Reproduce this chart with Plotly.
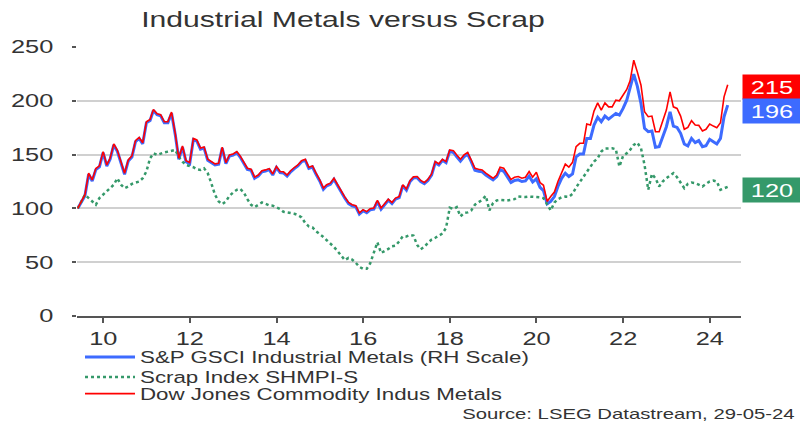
import pandas as pd
import plotly.graph_objects as go

# Monthly values, May 2009 .. May 2024 (rebased to 100)
start_month = "2009-05-31"

gsci_ind_metals = [
    100, 105.5, 111.7, 131.7, 125.5, 136, 138.5, 151.8,
    139.4, 145.6, 159, 153, 141, 131.7, 144, 147.8, 162, 165, 160, 179.5,
    181.7, 191, 187, 186, 179.5, 179.5, 188.5, 168.8, 145.6, 157, 143.4, 141.6,
    164, 162.6, 155, 156, 144.7, 142.5, 140.4, 141, 156, 141.6, 148.7, 149.6,
    151.8, 147.8, 142.5, 136.3, 135.4, 128, 130, 134, 134.8, 136, 131, 138,
    133.3, 133, 130, 134, 137, 139.4, 143.4, 144.7, 137.3, 138.5, 131.7, 125.5,
    117.8, 121, 122.5, 127, 121, 114.7, 109.5, 104.5, 102.4, 101.5, 94.7, 97.8,
    96, 98.7, 99.3, 106.4, 99.3, 103.3, 107.6, 104.5, 108.6, 110, 121, 117,
    125, 128.3, 128.6, 125, 123, 126, 131, 142.5, 140.4, 144.7, 142.5, 153,
    152, 148, 144, 148, 150.5, 143.5, 135.5, 134.5, 134, 131, 128.8, 126.5,
    129.5, 136, 134.5, 129.5, 124, 126, 126.5, 125, 125.5, 130, 124.5, 127.5,
    119.5, 116.5, 104.3, 106.5, 111, 120.4, 128, 132.7, 129.6, 132, 148, 150.6,
    150.6, 165, 165, 177.5, 184.6, 180.5, 185.8, 183, 185.2, 188.3, 186.7, 192.9,
    200.6, 211.4, 224.7, 213.6, 197.5, 174.4, 171.3, 171.9, 156.8, 157.4, 167.3, 175.9,
    189.8, 176.5, 175.3, 169.8, 159.9, 158, 165.1, 161.1, 163, 157.4, 158.3, 164.2,
    162, 159.9, 165.1, 185.2, 196,
]

scrap_index = [
    100, 106.5, 112.7, 109.6, 106.5, 103.4, 109.6, 112.7,
    115.7, 118, 122, 128, 122, 118.8, 120.4, 122.8, 124, 125, 128, 134.3,
    146.6, 151.2, 149.7, 151.2, 152, 152.8, 153.4, 154.3, 148, 143.5, 140.4, 139.5,
    138.3, 136.4, 135.8, 137.3, 132.7, 123.5, 112.7, 106.5, 104, 106.5, 111.7, 114.8,
    117.3, 118.2, 114.8, 108.6, 103.4, 101.2, 103.4, 105.5, 104.3, 102.8, 102.5, 101.2,
    99.4, 96.9, 96, 95.7, 95, 93.8, 91.7, 86.4, 83.3, 82.4, 78.7, 76.5,
    73.5, 70.4, 67.3, 64.2, 60.2, 55.6, 51.9, 54, 52.5, 49.4, 45.7, 43.8,
    43.8, 48.8, 58.6, 68.5, 58.6, 60.2, 62.3, 64.8, 65.4, 69.4, 74, 74,
    75.3, 74.7, 66, 62, 64.3, 68, 71, 72.7, 74.8, 76.7, 82, 100.6,
    99.4, 101.2, 92.6, 95.7, 96.3, 98.1, 103.4, 105.5, 108, 111.7, 98.1, 105,
    107.4, 108, 107.4, 107.4, 108, 108.6, 111, 110.5, 110.5, 111, 111, 110.5,
    110.2, 109.5, 103.8, 98.1, 105.5, 108.6, 110.3, 111, 110.8, 113.5, 119.5, 124.2,
    129, 134.3, 138.9, 143.5, 146.6, 152.8, 155.6, 155.9, 155.9, 155, 138.9, 148.8,
    151.2, 154.3, 159, 161.1, 155.9, 140.4, 117.3, 132, 128, 120.4, 125, 128,
    130.2, 132.7, 129, 124, 118.8, 122.8, 124, 123.5, 121.9, 120.4, 122.8, 125,
    125.9, 125, 117.3, 118.8, 120,
]

dj_ind_metals = [
    100, 106.5, 112.7, 132.7, 126.5, 137, 139.5, 152.8,
    140.4, 146.6, 160, 154, 142, 132.7, 145, 148.8, 163, 166, 161, 180.5,
    182.7, 192, 188, 187, 180.5, 180.5, 189.5, 169.8, 146.6, 158, 144.4, 142.6,
    165, 163.6, 156, 157, 145.7, 143.5, 141.4, 142, 157, 142.6, 149.7, 150.6,
    152.8, 148.8, 143.5, 137.3, 136.4, 129, 131, 135, 135.8, 137, 132, 139,
    134.3, 134, 131, 135, 138, 140.4, 144.4, 145.7, 138.3, 139.5, 132.7, 126.5,
    118.8, 122, 123.5, 128, 122, 115.7, 110.5, 105.5, 103.4, 102.5, 95.7, 98.8,
    97, 99.7, 100.3, 107.4, 100.3, 104.3, 108.6, 105.5, 109.6, 111, 122, 118,
    126, 129.3, 129.6, 126, 124, 127, 132, 143.5, 141.4, 145.7, 143.5, 154.3,
    153.7, 149.7, 145.7, 149.7, 152, 145, 137.3, 136.4, 135.8, 132.7, 130.2, 128,
    131, 138.3, 137.3, 132, 127, 129, 129.6, 128, 129, 134.3, 129, 133.5,
    124, 121.5, 106.5, 111, 115.2, 125, 133.5, 141.2, 138.3, 142.8, 157.4, 160.5,
    160.5, 178.4, 177.5, 190.4, 198, 191.4, 198, 194.4, 194.4, 200.6, 200, 205.2,
    210.5, 218.5, 237.7, 226.9, 214.5, 189.8, 185.2, 185.8, 171.3, 171.3, 180.5, 191.4,
    208.3, 194.4, 192.9, 185.8, 173.5, 175.3, 181.5, 177.5, 177.2, 171.9, 173.5, 178.4,
    176.5, 175, 179.6, 203.7, 215,
]

series_names = [
    "S&P GSCI Industrial Metals (RH Scale)",
    "Scrap Index SHMPI-S",
    "Dow Jones Commodity Indus Metals",
]
tick_dates = ["2010-01-01", "2012-01-01", "2014-01-01", "2016-01-01",
              "2018-01-01", "2020-01-01", "2022-01-01", "2024-01-01"]
tick_labels = ["10", "12", "14", "16", "18", "20", "22", "24"]
y_ticks = [0, 50, 100, 150, 200, 250]

dates = pd.date_range(start_month, periods=len(dj_ind_metals), freq="ME")

BLUE = "#3d6bff"
GREEN = "#35996a"
RED = "#ff0000"
FONT = "Liberation Sans, Arial, sans-serif"
TXT = "#333333"

W, H = 800, 422
ML, MR, MT, MB = 77, 59, 47, 106
PH = H - MT - MB


def py(y_px):
    """container pixel row -> paper y"""
    return (H - MB - y_px) / PH


def px(x_px):
    return (x_px - ML) / (W - ML - MR)


fig = go.Figure()
fig.add_trace(go.Scatter(x=dates, y=gsci_ind_metals, name=series_names[0], mode="lines",
                         line=dict(color=BLUE, width=3), legend="legend"))
fig.add_trace(go.Scatter(x=dates, y=scrap_index, name=series_names[1], mode="lines",
                         line=dict(color=GREEN, width=2.5, dash="dot"), legend="legend2"))
fig.add_trace(go.Scatter(x=dates, y=dj_ind_metals, name=series_names[2], mode="lines",
                         line=dict(color=RED, width=1.6), legend="legend3"))

leg_common = dict(x=px(80), xanchor="left", yanchor="middle", orientation="v",
                  font=dict(size=16.3, color=TXT, family=FONT), itemwidth=50,
                  bgcolor="rgba(0,0,0,0)")

fig.update_layout(
    width=W, height=H,
    margin=dict(l=ML, r=MR, t=MT, b=MB, autoexpand=False),
    paper_bgcolor="white", plot_bgcolor="white",
    font=dict(family=FONT, color=TXT, size=18.5),
    title=dict(text="Industrial Metals versus Scrap", x=343 / W, xanchor="center",
               y=1 - 19 / H, yanchor="middle", font=dict(size=22, color=TXT, family=FONT)),
    showlegend=True,
    legend=dict(y=py(357.5), **leg_common),
    legend2=dict(y=py(377.5), **leg_common),
    legend3=dict(y=py(394), **leg_common),
)
fig.update_xaxes(
    type="date", range=["2009-05-25", "2024-09-20"],
    tickvals=tick_dates, ticktext=tick_labels,
    showgrid=False, showline=True, linecolor="#555555", linewidth=1.5,
    ticks="outside", ticklen=5, tickcolor="#555555", tickwidth=1.5,
    tickfont=dict(size=18.5, color=TXT, family=FONT), zeroline=False,
)
fig.update_yaxes(
    range=[0, 250], tickvals=y_ticks,
    showgrid=True, gridcolor="#d0d0d0", gridwidth=1.5,
    showline=False, zeroline=False,
    ticks="outside", ticklen=4, tickcolor="#555555", tickwidth=1.5,
    ticklabelstandoff=15,
    tickfont=dict(size=18.5, color=TXT, family=FONT),
)

# End-value labels
labels = [
    (dj_ind_metals[-1], RED, -2),
    (gsci_ind_metals[-1], BLUE, -6),
    (scrap_index[-1], GREEN, -3),
]
for val, col, shift in labels:
    fig.add_annotation(
        x=1, xref="paper", xanchor="left", xshift=1,
        y=val, yref="y", yanchor="middle", yshift=shift,
        text=f"{val:.0f}", showarrow=False,
        bgcolor=col, width=58, height=24, borderpad=0,
        font=dict(size=18.5, color="white", family=FONT),
        align="center",
    )

fig.add_annotation(
    x=px(628), xref="paper", xanchor="center",
    y=py(413.5), yref="paper", yanchor="middle",
    text="Source: LSEG Datastream, 29-05-24", showarrow=False,
    font=dict(size=14.8, color=TXT, family=FONT),
)

# The reference text is horizontally stretched; emulate with SVG textLength.
post = """
document.body.style.margin = '0';
document.body.style.overflow = 'hidden';
var gd = document.getElementById('{plot_id}');
function stretchAll() {
  var S = 1.37;
  var nodes = gd.querySelectorAll('text');
  for (var i = 0; i < nodes.length; i++) {
    var t = nodes[i];
    if (!t.textContent || t.getAttribute('data-stretched') === '1') continue;
    var L = t.getComputedTextLength();
    if (!(L > 0)) continue;
    t.setAttribute('textLength', (L * S).toFixed(2));
    t.setAttribute('lengthAdjust', 'spacingAndGlyphs');
    t.setAttribute('data-stretched', '1');
  }
  var clips = gd.querySelectorAll('.scrollbox, .infolayer [class^="legend"], .infolayer [class^="legend"] [clip-path]');
  for (var j = 0; j < clips.length; j++) { clips[j].removeAttribute('clip-path'); }
}
stretchAll();
if (gd.on) { gd.on('plotly_afterplot', stretchAll); }
"""

fig.write_html("out.html", post_script=post, config={"displayModeBar": False})
